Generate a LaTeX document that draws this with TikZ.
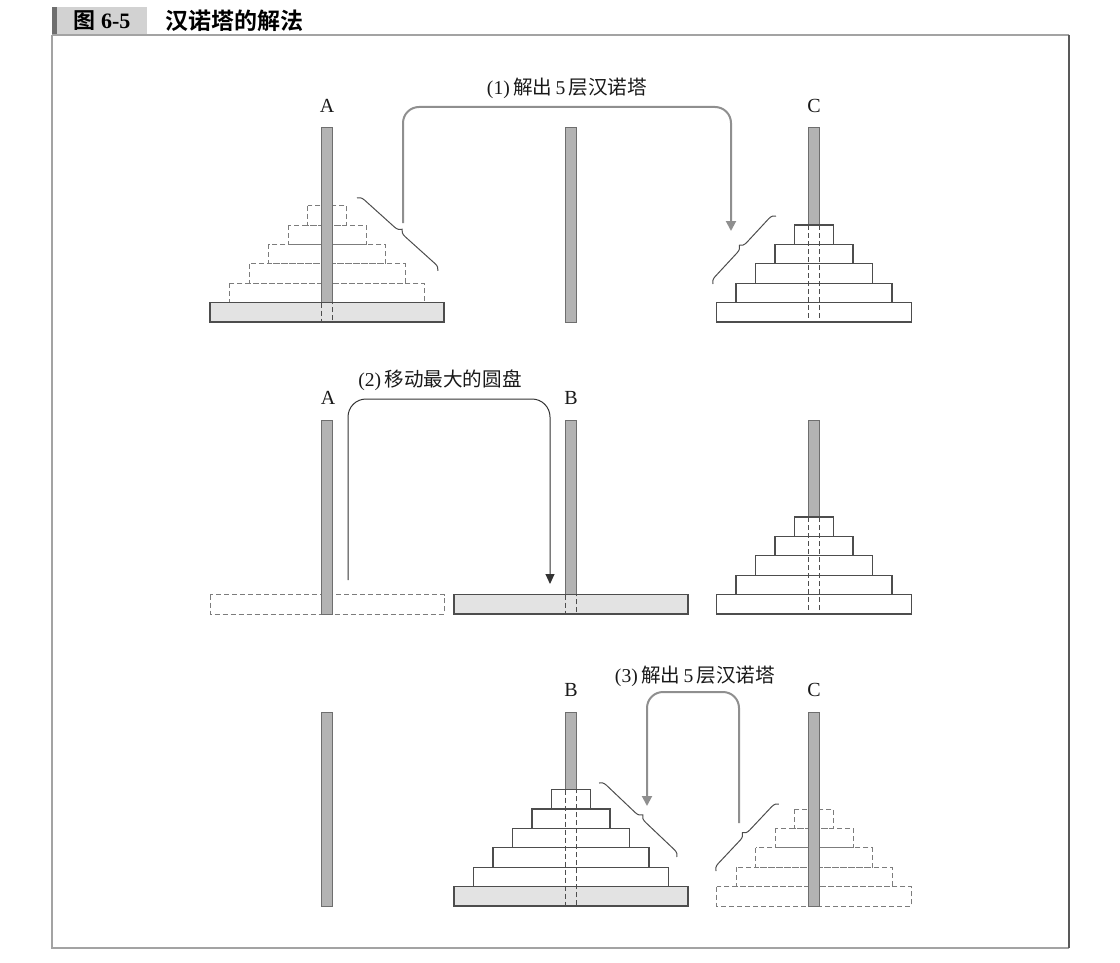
\documentclass[tikz,border=0pt]{standalone}
\usepackage{fontspec}
\setmainfont{Liberation Serif}
\newfontfamily\cjk[BoldFont={Noto Sans CJK SC Bold}]{Noto Sans CJK SC}
\usepackage{tikz}
\usetikzlibrary{arrows.meta, decorations.pathreplacing}
\definecolor{poleGray}{HTML}{B3B3B3}
\definecolor{poleEdge}{HTML}{6E6E6E}
\definecolor{discEdge}{HTML}{4D4D4D}
\definecolor{ghostEdge}{HTML}{7C7C7C}
\definecolor{baseGray}{HTML}{E3E3E3}
\definecolor{arrowGray}{HTML}{8F8F8F}
\definecolor{frameGray}{HTML}{A3A3A3}
\definecolor{titleGray}{HTML}{D2D2D2}
\definecolor{stripGray}{HTML}{6E6E6E}
\tikzset{
  hanoiPole/.style={fill=poleGray, draw=poleEdge, line width=0.5pt},
  hanoiDisc/.style={fill=white, draw=discEdge, line width=0.6pt},
  ghostDisc/.style={draw=ghostEdge, dash pattern=on 2.5pt off 1.5pt, line width=0.5pt},
  baseDisc/.style={fill=baseGray, draw=discEdge, line width=0.6pt},
  hiddenPole/.style={draw=discEdge, dash pattern=on 2.5pt off 1.5pt, line width=0.5pt},
  moveArrow/.style={draw=arrowGray, line width=1pt, rounded corners=8pt,
    -{Triangle[length=5pt,width=5pt]}},
  moveArrowThin/.style={draw=black!80, line width=0.5pt, rounded corners=9pt,
    -{Triangle[length=5pt,width=4.5pt]}},
  stepBrace/.style={draw=discEdge, line width=0.5pt, decorate,
    decoration={brace, amplitude=3.5pt}},
  stepLabel/.style={font=\fontsize{9.8}{11}\selectfont, text=black!90},
  pegLabel/.style={font=\fontsize{10}{12}\selectfont, text=black!90}
}

\begin{document}
\begin{tikzpicture}[x=0.5pt, y=-0.5pt]
  \useasboundingbox (0,0) rectangle (1120,963);
  % title bar and frame
  \fill[stripGray] (52,7) rectangle (57,35);
  \fill[titleGray] (57,7) rectangle (147,35);
  \node[font=\fontsize{11}{13}\selectfont\bfseries] (figno) at (102,21)
    {{\cjk 图}~6-5};
  \node[font=\fontsize{11.5}{13}\selectfont\bfseries, anchor=west] (figtitle)
    at (158,21) {\cjk 汉诺塔的解法};
  \draw[frameGray, line width=1pt] (52,35) -- (1069,35);
  \draw[frameGray, line width=1pt] (52,35) -- (52,948) -- (1069,948);
  \draw[black!65, line width=1pt] (1069,35) -- (1069,948);

  % ---- row 1: five discs from A to C
  \node[pegLabel] (pegA1) at (327,106) {A};
  \node[pegLabel] (pegC1) at (814,106) {C};
  \foreach \k in {1,...,5}
    \draw[ghostDisc] ({327-19.5*\k},{322-19.4*(7-\k)})
      rectangle ({327+19.5*\k},{322-19.4*(6-\k)});
  \draw[hanoiPole] (321.5,128) rectangle (332.5,302.6);
  \draw[baseDisc] (210,302.6) rectangle (444,322);
  \draw[hiddenPole] (321.5,302.6) rectangle (332.5,322);
  \draw[hanoiPole] (565.5,128) rectangle (576.5,322);
  \draw[hanoiPole] (808.5,128) rectangle (819.5,225);
  \foreach \k in {1,...,5}
    \draw[hanoiDisc] ({814-19.5*\k},{322-19.4*(6-\k)})
      rectangle ({814+19.5*\k},{322-19.4*(5-\k)});
  \draw[hiddenPole] (808.5,225) rectangle (819.5,322);
  \draw[stepBrace] (357,198) -- (438,271);
  \draw[stepBrace] (713,284) -- (776,216);
  \coordinate (tipA1) at (403,223);
  \coordinate (overA1) at (567,107);
  \coordinate (dropC1) at (731,231);
  \draw[moveArrow] (tipA1) |- (overA1) -| (dropC1);
  \node[stepLabel] (step1) at (567,88) {(1)\,{\cjk 解出}\,5\,{\cjk 层汉诺塔}};

  % ---- row 2: largest disc from A to B
  \node[pegLabel] (pegA2) at (328,398) {A};
  \node[pegLabel] (pegB2) at (571,398) {B};
  \draw[ghostDisc] (210,594.6) rectangle (444,614);
  \draw[hanoiPole] (321.5,420) rectangle (332.5,614);
  \draw[hanoiPole] (565.5,420) rectangle (576.5,594.6);
  \draw[baseDisc] (454,594.6) rectangle (688,614);
  \draw[hiddenPole] (565.5,594.6) rectangle (576.5,614);
  \draw[hanoiPole] (808.5,420) rectangle (819.5,517);
  \foreach \k in {1,...,5}
    \draw[hanoiDisc] ({814-19.5*\k},{614-19.4*(6-\k)})
      rectangle ({814+19.5*\k},{614-19.4*(5-\k)});
  \draw[hiddenPole] (808.5,517) rectangle (819.5,614);
  \coordinate (liftA2) at (348,580);
  \coordinate (overA2) at (449,399);
  \coordinate (dropB2) at (550,584);
  \draw[moveArrowThin] (liftA2) |- (overA2) -| (dropB2);
  \node[stepLabel] (step2) at (440,380) {(2)\,{\cjk 移动最大的圆盘}};

  % ---- row 3: five discs from C to B
  \node[pegLabel] (pegB3) at (571,690) {B};
  \node[pegLabel] (pegC3) at (814,690) {C};
  \draw[hanoiPole] (321.5,712) rectangle (332.5,906);
  \draw[hanoiPole] (565.5,712) rectangle (576.5,789.6);
  \foreach \k in {1,...,5}
    \draw[hanoiDisc] ({571-19.5*\k},{906-19.4*(7-\k)})
      rectangle ({571+19.5*\k},{906-19.4*(6-\k)});
  \draw[baseDisc] (454,886.6) rectangle (688,906);
  \draw[hiddenPole] (565.5,789.6) rectangle (576.5,906);
  \foreach \k in {1,...,5}
    \draw[ghostDisc] ({814-19.5*\k},{906-19.4*(6-\k)})
      rectangle ({814+19.5*\k},{906-19.4*(5-\k)});
  \draw[hanoiPole] (808.5,712) rectangle (819.5,906);
  \draw[stepBrace] (599,783) -- (677,857);
  \draw[stepBrace] (716,871) -- (779,804);
  \coordinate (tipC3) at (739,823);
  \coordinate (overC3) at (693,692);
  \coordinate (dropB3) at (647,806);
  \draw[moveArrow] (tipC3) |- (overC3) -| (dropB3);
  \node[stepLabel] (step3) at (695,676) {(3)\,{\cjk 解出}\,5\,{\cjk 层汉诺塔}};
\end{tikzpicture}
\end{document}
